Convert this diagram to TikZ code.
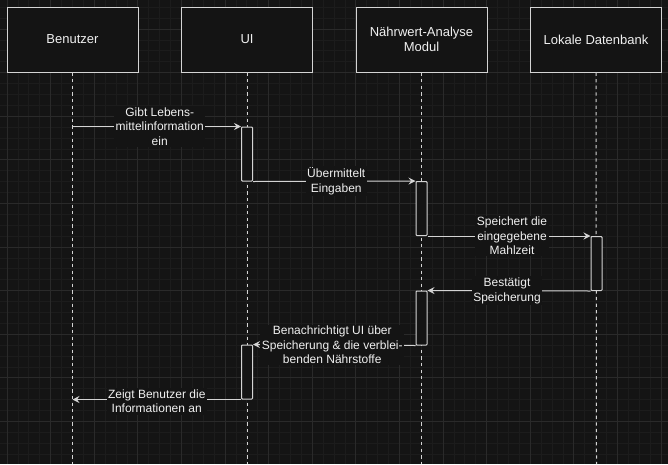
\documentclass[tikz,border=0pt]{standalone}
\usepackage{fontspec}
\setmainfont{Liberation Sans}
\usetikzlibrary{arrows.meta}
\definecolor{bg}{HTML}{141414}
\definecolor{gridminor}{HTML}{1C1C1C}
\definecolor{gridmajor}{HTML}{2A2A2A}
\definecolor{stroke}{HTML}{D4D4D4}
\definecolor{txt}{HTML}{F0F0F0}
\tikzset{
  actor/.style={draw=stroke, line width=1pt, fill=bg, minimum width=131pt, minimum height=65pt, inner sep=0pt, align=center, text=txt, font=\fontsize{13}{15}\selectfont},
  lifeline/.style={draw=stroke, line width=1pt, dash pattern=on 3.3pt off 3.3pt},
  actbox/.style={draw=stroke, line width=1pt, fill=bg, minimum width=11pt, minimum height=54pt, inner sep=0pt, rounded corners=0.8pt},
  msg/.style={draw=stroke, line width=1pt, -{Stealth[length=7pt, width=7pt, inset=2.5pt]}},
  msglabel/.style={fill=bg, text=txt, align=center, inner sep=1.5pt, font=\fontsize{12}{14.4}\selectfont},
  minorline/.style={draw=gridminor, line width=0.8pt},
  majorline/.style={draw=gridmajor, line width=0.8pt}
}
\begin{document}
\begin{tikzpicture}[x=1pt, y=-1pt]
\useasboundingbox (0,0) rectangle (668,464);
\fill[bg] (0,0) rectangle (668,464);
\begin{scope}
\clip (0,0) rectangle (668,464);
\foreach \i in {-1,...,61} { \draw[minorline] ({7+10.9*\i},0) -- ({7+10.9*\i},464); }
\foreach \i in {-1,...,43} { \draw[minorline] (0,{7.2+10.9*\i}) -- (668,{7.2+10.9*\i}); }
\foreach \i in {0,...,15} { \draw[majorline] ({7+43.6*\i},0) -- ({7+43.6*\i},464); }
\foreach \i in {0,...,10} { \draw[majorline] (0,{29+43.6*\i}) -- (668,{29+43.6*\i}); }
\end{scope}

% actors
\node[actor] (bu) at (72.5,39.5) {Benutzer};
\node[actor] (ui) at (247,39.5) {UI};
\node[actor] (na) at (421.5,39.5) {Nährwert-Analyse\\Modul};
\node[actor] (db) at (596,39.5) {Lokale Datenbank};

% lifeline ends
\coordinate (buend) at (72.5,464);
\coordinate (uiend) at (247,464);
\coordinate (naend) at (421.5,464);
\coordinate (dbend) at (596.5,464);
\draw[lifeline] (bu.south) -- (buend);
\draw[lifeline] (ui.south) -- (uiend);
\draw[lifeline] (na.south) -- (naend);
\draw[lifeline] (db.south) -- (dbend);

% activations
\node[actbox] (a1) at (247,154) {};
\node[actbox] (a2) at (421.5,208.5) {};
\node[actbox] (a3) at (596.5,263.5) {};
\node[actbox] (a4) at (421.5,318) {};
\node[actbox] (a5) at (247,372) {};

% messages
\draw[msg] (bu.south |- a1.north west) -- node[msglabel, xshift=3pt] {Gibt Lebens-\\mittelinformation\\ein} (a1.north west);
\draw[msg] (a1.south east) -- node[msglabel, xshift=2pt] {Übermittelt\\Eingaben} (a2.north west);
\draw[msg] (a2.south east) -- node[msglabel, xshift=3pt] {Speichert die\\eingegebene\\Mahlzeit} (a3.north west);
\draw[msg] (a3.south west) -- node[msglabel, xshift=-2pt] {Bestätigt\\Speicherung} (a4.north east);
\draw[msg] (a4.south west) -- node[msglabel, xshift=-2pt] {Benachrichtigt UI über\\Speicherung \& die verblei-\\benden Nährstoffe} (a5.north east);
\draw[msg] (a5.south west) -- node[msglabel, yshift=-2pt] {Zeigt Benutzer die\\Informationen an} (bu.south |- a5.south west);
\end{tikzpicture}
\end{document}
